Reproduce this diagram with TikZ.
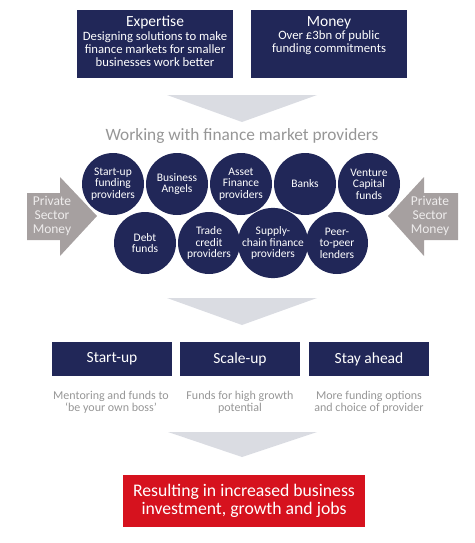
\documentclass[tikz,border=0pt]{standalone}
\usepackage{fontspec}
\setmainfont{Carlito}
\usetikzlibrary{shapes.geometric}
\definecolor{navy}{RGB}{33,39,88}
\definecolor{bbred}{RGB}{214,18,30}
\definecolor{chevron}{RGB}{218,220,226}
\definecolor{warmgray}{RGB}{166,160,160}
\definecolor{txtgray}{RGB}{150,150,150}
\definecolor{pswhite}{RGB}{238,236,236}
\tikzset{
  topbox/.style={fill=navy,minimum width=156pt,minimum height=68pt,inner sep=0pt},
  toptext/.style={text=white,align=center,anchor=north,inner sep=0pt,font=\fontsize{12.7}{13.3}\selectfont},
  bubble/.style={circle,fill=navy,text=white,minimum size=62pt,inner sep=0pt,align=center,font=\fontsize{11.5}{11.6}\selectfont},
  stagebox/.style={fill=navy,text=white,minimum width=120pt,minimum height=34pt,inner sep=0pt,font=\fontsize{15.5}{17}\selectfont},
  subtext/.style={text=txtgray,align=center,font=\fontsize{12}{12.4}\selectfont},
  chev/.style={fill=chevron,draw=none},
  psarrow/.style={fill=warmgray,draw=none},
  pstext/.style={text=pswhite,align=center,font=\fontsize{13.5}{14}\selectfont}
}
\begin{document}
\begin{tikzpicture}[x=1pt,y=-1pt]
\useasboundingbox (0,0) rectangle (474,543);
% top boxes
\node[topbox] (expertise) at (155,44) {};
\node[topbox] (money) at (329,44) {};
\node[toptext] (exptext) at (155,16) {{\fontsize{15.5}{15.5}\selectfont Expertise}\\Designing solutions to make\\finance markets for smaller\\businesses work better};
\node[toptext] (montext) at (329,16) {{\fontsize{15.5}{15.5}\selectfont Money}\\Over £3bn of public\\funding commitments};
% chevron 1
\coordinate (c1a) at (167,95); \coordinate (c1b) at (317,95); \coordinate (c1c) at (242,122);
\fill[chev] (c1a) -- (c1b) -- (c1c) -- cycle;
\node[text=txtgray,font=\fontsize{17.3}{18}\selectfont] (working) at (242,136) {Working with finance market providers};
% bubbles row 1
\node[bubble] (b1) at (113,184) {Start-up\\funding\\providers};
\node[bubble] (b2) at (177,184) {Business\\Angels};
\node[bubble] (b3) at (241,184) {Asset\\Finance\\providers};
\node[bubble] (b4) at (305,184) {Banks};
\node[bubble] (b5) at (369,184) {Venture\\Capital\\funds};
% bubbles row 2
\node[bubble] (b6) at (145,243) {Debt\\funds};
\node[bubble] (b7) at (209,243) {Trade\\credit\\providers};
\node[bubble] (b8) at (273,243) {Supply-\\chain finance\\providers};
\node[bubble] (b9) at (337,243) {Peer-\\to-peer\\lenders};
% private sector arrows
\fill[psarrow] (27,193) -- (60,193) -- (60,177) -- (97,216) -- (60,256) -- (60,240) -- (27,240) -- cycle;
\fill[psarrow] (458,193) -- (424,193) -- (424,177) -- (388,216) -- (424,256) -- (424,240) -- (458,240) -- cycle;
\node[pstext] (psl) at (52,216) {Private\\Sector\\Money};
\node[pstext] (psr) at (430,216) {Private\\Sector\\Money};
% chevron 2
\coordinate (c2a) at (167,298); \coordinate (c2b) at (317,298); \coordinate (c2c) at (242,325);
\fill[chev] (c2a) -- (c2b) -- (c2c) -- cycle;
% stage boxes
\node[stagebox] (startup) at (112,359) {Start-up};
\node[stagebox] (scaleup) at (240,359) {Scale-up};
\node[stagebox] (stay) at (369,359) {Stay ahead};
\node[subtext] (s1) at (111,402) {Mentoring and funds to\\‘be your own boss’};
\node[subtext] (s2) at (240,402) {Funds for high growth\\potential};
\node[subtext] (s3) at (369,402) {More funding options\\and choice of provider};
% chevron 3
\coordinate (c3a) at (168,432); \coordinate (c3b) at (317,432); \coordinate (c3c) at (242,457);
\fill[chev] (c3a) -- (c3b) -- (c3c) -- cycle;
% result box
\node[fill=bbred,text=white,minimum width=242pt,minimum height=52pt,inner sep=0pt,align=center,font=\fontsize{17.7}{18.5}\selectfont] (result) at (244,501) {Resulting in increased business\\investment, growth and jobs};
\end{tikzpicture}
\end{document}
